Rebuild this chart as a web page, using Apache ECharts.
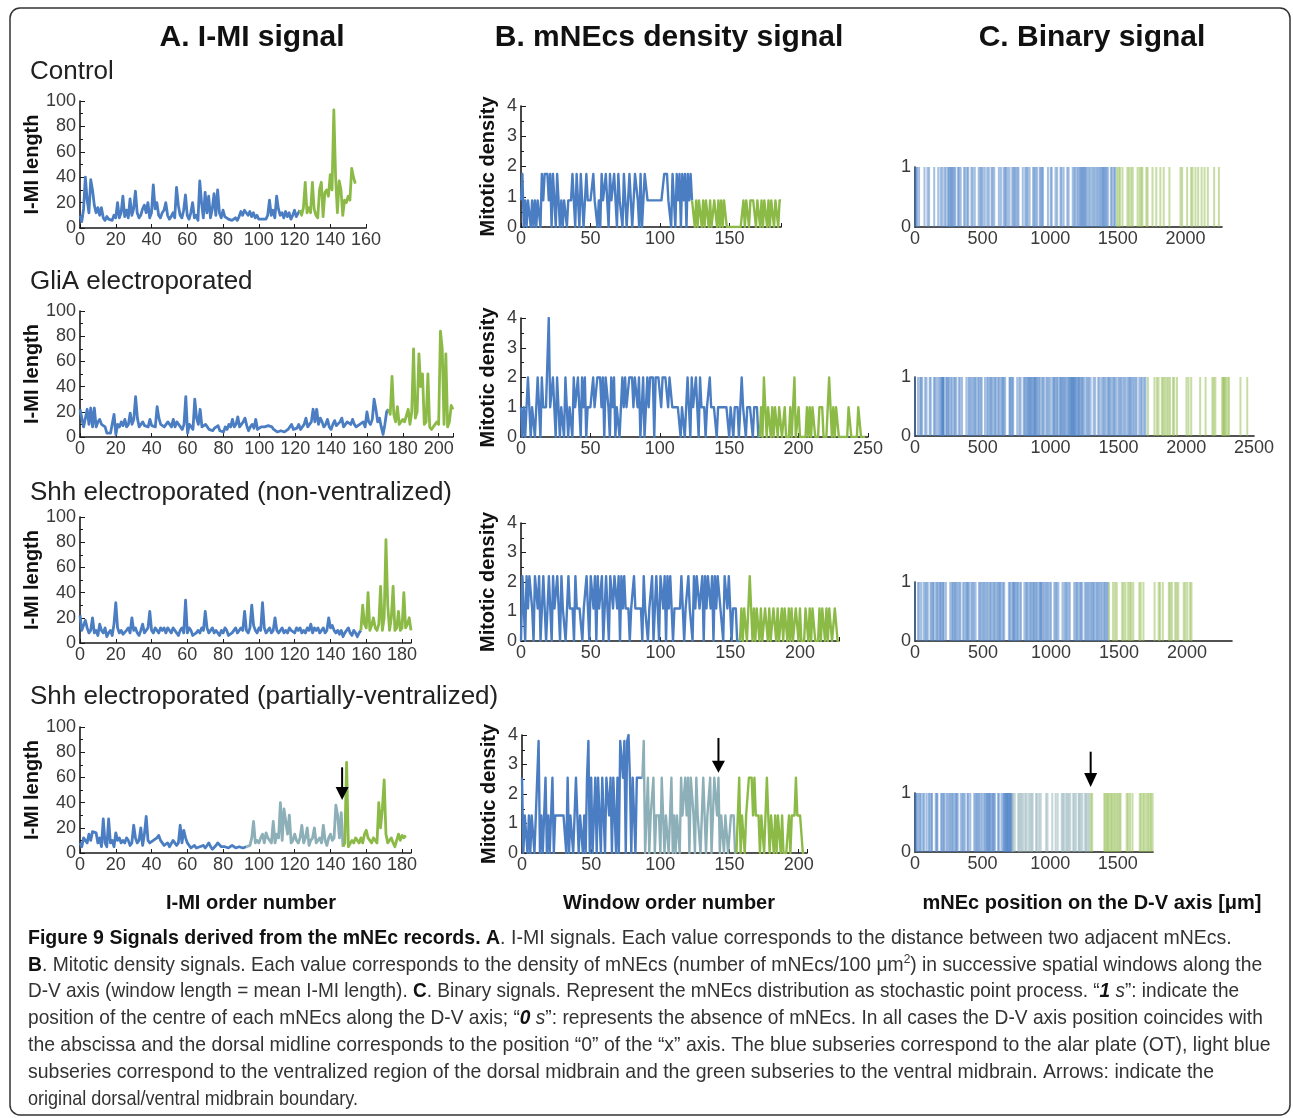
<!DOCTYPE html>
<html><head><meta charset="utf-8">
<script src="https://cdn.jsdelivr.net/npm/echarts@6/dist/echarts.min.js"></script>
<style>html,body{margin:0;padding:0;background:#fff}#c{width:1293px;height:1118px}</style>
</head><body><div id="c"></div>
<script>
// ===================== DATA =====================
// Column titles / row labels / axis titles
const colTitles = ['A. I-MI signal', 'B. mNEcs density signal', 'C. Binary signal'];
const rowLabels = ['Control', 'GliA electroporated', 'Shh electroporated (non-ventralized)', 'Shh electroporated (partially-ventralized)'];
const bottomTitles = ['I-MI order number', 'Window order number', 'mNEc position on the D-V axis [\u03bcm]'];

// ---- A. I-MI signals (value per I-MI order number); *Start = first order number of each subseries
const imiCtrlStart = [0, 123];
const imiCtrlBlue = [10,5,15,40,22,12,38,30,18,12, 16,10,16,8,6,9,7,8,6,10, 8,20,8,12,25,9,14,8,23,10,
  15,29,12,8,10,15,18,12,20,8, 12,34,15,20,10,8,12,14,20,10, 7,9,12,8,32,18,10,8,14,26,
  10,7,12,20,8,10,6,37,20,8, 28,12,25,8,15,27,10,30,12,8, 14,9,10,7,8,6,7,8,6,9,
  13,10,14,12,10,13,9,12,8,10, 7,6,7,8,7,10,22,10,14,8, 25,15,10,12,8,13,9,12,7,10, 14,9,8,14];
const imiCtrlGreen = [14,10,16,36,12,16,12,36,15,10, 8,30,36,9,28,30,25,42,30,93, 40,12,37,30,10,22,20,25,22,47, 40,35];

const imiGliaStart = [0, 172];
const imiGliaBlue = [22,15,8,8,22,10,23,8,23,8, 12,14,10,9,8,3,3,3,4,18, 2,10,8,12,9,14,8,10,19,10,
  14,32,15,8,10,12,9,10,8,14, 9,10,8,24,15,10,10,8,8,12, 10,8,14,8,12,10,8,6,10,32,
  3,10,8,6,30,15,10,22,8,7, 10,8,6,7,5,7,6,9,5,6, 4,8,6,10,8,14,8,10,16,8,
  10,12,15,9,5,8,10,7,14,6, 6,8,7,8,7,9,10,8,6,7, 4,5,5,5,4,5,6,5,10,6,
  5,7,10,6,8,10,15,8,10,12, 22,12,22,10,15,12,8,10,14,8, 6,10,13,9,8,12,15,8,10,12,
  12,10,14,10,8,9,10,10,12,8, 20,12,10,14,30,22,12,15,8,2, 10,20,22];
const imiGliaGreen = [22,18,48,18,12,24,10,12,14,12, 12,22,10,20,70,15,20,66,40,50,
  10,12,50,8,6,5,10,12,10,84, 70,10,66,8,12,25,22];

const imiShhNStart = [0, 157];
const imiShhNBlue = [22,10,14,18,12,8,10,20,8,10, 6,15,10,8,12,5,8,10,6,15, 32,12,8,10,7,8,10,12,8,20,
  10,12,8,6,10,15,8,10,12,25, 10,8,12,10,8,12,10,12,8,12, 10,8,12,10,8,6,10,12,8,34,
  8,12,10,6,5,8,10,8,12,10, 25,12,8,10,12,8,10,8,6,10, 8,12,10,6,5,8,10,12,8,10,
  12,10,25,10,8,12,30,14,10,8, 12,10,32,12,8,10,12,8,10,20, 10,8,10,12,8,10,8,12,10,10,
  8,12,10,12,8,10,8,12,10,15, 8,12,10,12,8,10,12,8,10,20, 12,14,10,8,10,7,10,5,8,10,
  12,8,6,10,8,5,8,10];
const imiShhNGreen = [10,30,15,12,40,10,14,20,12,10, 15,45,10,20,82,30,10,20,45,10, 12,25,10,12,40,12,15,20,10];

const imiShhPStart = [0, 93, 147];
const imiShhPBlue = [8,5,12,10,8,15,10,17,16,16, 8,12,5,27,8,5,27,8,10,5, 16,10,12,8,10,8,12,10,6,8,
  22,12,8,10,20,6,15,29,10,8, 8,10,10,12,14,10,8,6,6,8, 5,6,10,8,6,8,22,8,18,12,
  8,6,4,5,6,4,3,5,5,6, 4,6,8,5,3,4,6,8,9,5, 4,5,6,4,5,6,6,4,3,5, 5,4,4,5];
const imiShhPLight = [5,5,6,12,25,8,10,8,12,15, 8,16,12,10,8,25,8,15,12,40, 10,35,25,15,30,8,10,15,10,8,
  12,22,8,12,20,6,10,12,20,8, 10,12,8,22,10,6,12,15,10,12, 38,30,12,32,5];
const imiShhPGreen = [5,8,72,5,4,10,8,12,10,8, 12,8,15,18,12,10,8,12,10,8, 40,20,35,58,15,8,10,12,8,5, 10,15,10,14,12,14];

// ---- B. Mitotic density signals (value per window order number)
const denCtrlStart = [0, 123];
const denCtrlBlue = [0.88,1.75,0,0.88,0,0.88,0.88,0,0.88,0, 0.88,0,0.88,0.88,0,1.75,0.88,1.75,1.75,1.75,
  0.88,1.75,0,1.75,0.88,0,1.75,0.88,0,0.88, 0,0.88,0.88,0,0.88,0.88,0.88,1.75,0.88,0,
  1.75,0.88,0,1.75,0.88,0,0.88,1.75,0.88,0.88, 0.88,0.88,1.75,0.88,0.88,0,0.88,0,1.75,0.88,
  0.88,1.75,0.88,0,1.75,0.88,0.88,1.75,0.88,0, 1.75,0.88,0.88,0,1.75,0.88,0,0.88,1.75,0.88,
  0,0.88,1.75,1.75,0.88,0,1.75,0,0.88,1.75, 1.75,0.88,0.88,0.88,0.88,0.88,0.88,0.88,0.88,0.88,
  0.88,0.88,0.88,1.75,1.75,1.75,0.88,0.88,0,1.75, 0.88,0,1.75,0.88,1.75,0,1.75,0.88,1.75,0, 1.75,0.88,1.75,0.88];
const denCtrlGreen = [0.88,0.88,0,0.88,0,0.88,0.88,0,0.88,0, 0.88,0.88,0,0.88,0,0,0.88,0.88,0,0.88,
  0,0.88,0,0.88,0.88,0,0,0,0,0, 0,0,0,0,0,0,0,0.88,0,0.88, 0.88,0,0.88,0.88,0.88,0.88,0,0.88,0.88,0,
  0.88,0,0.88,0.88,0,0.88,0,0.88,0.88,0, 0.88,0.88,0,0.88,0.88];

const denGliaStart = [0, 172];
const denGliaBlue = [1,0,1,0,1,2,1,0,1,1, 0,1,2,1,0,2,1,1,1,1, 4,1,1,2,1,0,2,1,0,1, 1,0,2,1,0,1,1,0,2,1,
  1,2,1,0,2,1,2,0,1,1, 1,1,2,1,1,2,2,2,1,2, 0,2,2,1,0,2,1,2,0,1, 1,0,1,2,1,2,1,1,2,2,
  2,1,2,2,1,2,0,1,2,0, 1,2,1,2,2,2,0,2,2,2, 2,1,2,2,2,2,1,2,2,1, 1,1,1,1,1,0,1,1,0,1,
  2,1,0,2,1,1,2,1,0,2, 1,1,1,0,1,1,2,1,1,1, 1,0,1,1,1,1,1,1,1,1, 0,1,1,0,1,1,1,0,1,2,
  1,1,0,1,1,1,1,0,1,1, 1,0,0];
const denGliaGreen = [0,1,0,2,1,0,1,1,0,1, 0,1,1,0,1,1,0,0,1,0, 0,0,1,0,0,2,0,0,1,0, 0,0,0,0,1,0,1,0,1,1,
  0,0,0,1,1,1,0,0,0,1, 2,2,0,1,0,1,1,0,0,0, 0,0,0,0,1,1,0,0,0,0, 0,1,1,0,0,0,0];

const denShhNStart = [0, 157];
const denShhNBlue = [0,2.2,1.1,0,2.2,1.1,2.2,2.2,1.1,0, 2.2,2.2,1.1,2.2,0,1.1,2.2,1.1,0,1.1,
  2.2,1.1,0,2.2,1.1,1.1,2.2,2.2,0,2.2, 1.1,1.1,0,1.1,2.2,1.1,1.1,1.1,0,2.2,
  1.1,1.1,1.1,1.1,0,1.1,1.1,2.2,1.1,0, 2.2,2.2,1.1,2.2,0,2.2,1.1,1.1,2.2,0,
  1.1,2.2,1.1,0,2.2,2.2,1.1,2.2,2.2,1.1, 2.2,0,2.2,1.1,2.2,1.1,1.1,1.1,0,1.1,
  1.1,2.2,1.1,1.1,1.1,1.1,1.1,0,2.2,1.1, 1.1,0,1.1,1.1,2.2,0,1.1,2.2,1.1,0,
  2.2,2.2,1.1,2.2,0,2.2,1.1,2.2,1.1,0, 1.1,1.1,1.1,1.1,1.1,2.2,1.1,0,1.1,1.1,
  2.2,1.1,1.1,0,2.2,1.1,2.2,2.2,1.1,1.1, 2.2,0,2.2,1.1,2.2,2.2,1.1,2.2,0,2.2,
  1.1,2.2,2.2,1.1,1.1,0,2.2,2.2,1.1,2.2, 1.1,0,1.1,1.1,1.1,0,0,0];
const denShhNGreen = [0,1.1,0,1.1,1.1,0,1.1,2.2,2.2,0, 1.1,0,1.1,1.1,0,1.1,0,0,1.1,1.1,
  0,1.1,0,0,1.1,1.1,0,1.1,0,0, 1.1,0,1.1,1.1,0,1.1,0,1.1,0,0, 1.1,1.1,0,1.1,0,0,0,1.1,1.1,0,
  1.1,0,1.1,1.1,0,0,0,1.1,0,1.1, 1.1,0,1.1,0,1.1,1.1,0,0,1.1,1.1, 0,0];

const denShhPStart = [0, 87, 155];
const denShhPBlue = [2.55,0,1.27,1.27,0,1.27,0,1.27,1.27,0, 1.27,1.27,3.8,0,1.27,0,1.27,2.55,0,1.27,
  0,1.27,2.55,0,1.27,1.27,1.27,1.27,1.27,1.27, 1.27,1.27,0,2.55,0,1.27,1.27,0,1.27,2.55,
  1.27,0,1.27,1.27,0,1.27,0,2.55,3.8,0, 2.55,0,1.27,2.55,0,2.55,2.55,0,2.55,2.55,
  0,2.55,2.55,1.27,2.55,0,2.55,2.55,0,2.55, 0,3.8,3.8,2.55,3.8,0,3.8,4,2.55,0,
  2.55,2.55,0,2.55,2.55,2.55,2.55,2.55];
const denShhPLight = [2.55,3.8,0,1.27,2.55,0,1.27,1.27,2.55,0, 1.27,1.27,1.27,0,2.55,1.27,0,1.27,1.27,0,
  1.27,2.55,0,1.27,0,1.27,1.27,0,2.55,1.27, 1.27,2.55,1.27,2.55,0,2.55,2.55,1.27,0,2.55,
  1.27,1.27,0,1.27,2.55,2.55,0,1.27,1.27,2.55, 0,1.27,2.55,2.55,1.27,2.55,0,1.27,1.27,0,
  1.27,1.27,0,0,1.27,1.27,1.27,0,0];
const denShhPGreen = [0,1.27,2.55,0,1.27,1.27,0,1.27,1.27,2.55, 2.55,2.55,1.27,2.55,1.27,1.27,1.27,0,1.27,1.27,
  0,1.27,2.55,1.27,0,1.27,1.27,0,1.27,0, 1.27,1.27,0,1.27,0,0,0,0,1.27,0, 1.27,1.27,1.27,2.55,1.27,1.27,1.27,1.27,0,0];

// ---- C. Binary signals: positions (um) of mNEc centres along the D-V axis ("1 s")
const binCtrlBlue = [0,10,15,30,70,92,104,142,172,190,202,218,228,244,250,259,266,274,280,290,298,318,326,338,363,372,386,394,417,427,
  442,471,483,491,501,516,534,546,566,574,586,620,635,655,665,673,685,699,719,729,736,745,757,765,797,815,825,833,847,873,
  883,890,902,922,930,940,946,983,1003,1011,1039,1051,1076,1084,1099,1126,1136,1166,1178,1186,1200,1209,1219,1226,1234,1240,1247,1255,1261,1270,
  1283,1293,1307,1319,1329,1342,1351,1363,1371,1381,1388,1394,1401,1409,1416,1426,1448,1458,1472,1480];
const binCtrlGreen = [1494,1506,1516,1534,1570,1582,1598,1610,1646,1661,1673,1681,1711,1720,1756,1784,1814,1839,1881,1963,
  1975,2012,2042,2052,2074,2094,2119,2141,2165,2212,2247];
const binGliaBlue = [0,22,37,45,53,75,85,108,116,139,147,159,173,183,192,200,203,206,209,213,231,233,243,251,263,272,286,294,304,323,
  333,347,379,394,402,412,424,433,443,451,465,474,484,492,516,531,541,551,559,567,579,589,597,611,619,631,641,649,655,665,
  697,700,710,718,724,754,769,779,801,809,816,826,834,840,847,852,859,865,874,879,885,889,897,903,913,921,935,943,953,969,
  977,987,999,1014,1023,1028,1036,1046,1053,1067,1073,1079,1087,1094,1102,1109,1118,1128,1136,1142,1149,1153,1158,1163,1168,1172,1177,1183,1188,1198,
  1204,1209,1216,1226,1232,1240,1250,1265,1273,1283,1295,1317,1329,1351,1361,1376,1388,1396,1406,1420,1428,1434,1444,1457,1466,1474,1486,1501,1509,1519,
  1531,1543,1553,1567,1577,1585,1594,1604,1614,1626,1634,1654,1666,1676,1690,1700];
const binGliaGreen = [1718,1766,1784,1796,1820,1830,1842,1856,1868,1880,1902,1912,1932,2002,2017,2037,2103,2143,2193,2203,
  2215,2265,2273,2279,2284,2294,2306,2316,2400,2450];
const binShhNBlue = [0,22,32,46,64,76,84,94,114,122,132,138,153,163,171,183,188,196,206,212,227,259,271,279,289,296,304,314,326,334,
  354,364,376,384,390,400,415,423,433,445,470,480,488,500,510,518,530,540,552,560,572,582,590,602,612,620,626,636,648,656,
  690,698,710,720,726,731,739,749,757,769,779,804,816,824,834,846,854,864,872,878,888,896,908,918,924,929,937,947,959,967,
  977,989,999,1024,1034,1042,1054,1084,1098,1108,1116,1128,1138,1170,1182,1190,1200,1212,1220,1230,1250,1260,1268,1278,1290,1298,
  1308,1316,1328,1338,1348,1356,1368,1378,1390,1398,1408,1416];
const binShhNGreen = [1426,1456,1471,1483,1523,1533,1547,1567,1579,1589,1604,1649,1659,1679,1761,1791,1801,1821,1866,1876,
  1888,1913,1923,1935,1975,1987,2002,2022,2032];
const binShhPBlue = [0,8,13,25,35,43,58,68,85,101,109,121,126,153,161,166,193,201,211,216,232,242,254,262,272,280,292,302,308,316,
  338,350,358,368,388,394,409,438,448,456,464,474,484,496,510,520,528,534,540,548,553,559,569,577,583,591,613,621,639,651,
  659,665,669,674,680,684,687,692,697,703,707,711,715];
const binShhPLight = [720,726,738,763,771,781,789,801,816,824,840,852,862,870,895,903,918,930,970,980,1015,1040,1055,1085,1093,
  1103,1118,1128,1136,1148,1170,1178,1190,1210,1216,1226,1238,1258,1266,1276,1288];
const binShhPGreen = [1300,1310,1400,1408,1418,1426,1436,1448,1456,1468,1478,1490,1500,1512,1520,1565,1575,1590,1608,1662,
  1672,1687,1697,1711,1723,1735,1745,1757];

// Arrows (dorsal/ventral boundary) in data coordinates [x, yTop, yTip]
const arrowShhP_A = [146.5, 68, 42];
const arrowShhP_B = [142, 3.9, 2.72];
const arrowShhP_C = [1299, 1.7, 1.1];

// Caption
const captionLines = [
  '{b|Figure 9 Signals derived from the mNEc records. A}{r|. I-MI signals. Each value corresponds to the distance between two adjacent mNEcs.}',
  '{b|B}{r|. Mitotic density signals. Each value corresponds to the density of mNEcs (number of mNEcs/100 \u03bcm}{sup|2}{r|) in successive spatial windows along the}',
  '{r|D-V axis (window length = mean I-MI length). }{b|C}{r|. Binary signals. Represent the mNEcs distribution as stochastic point process. \u201c}{bi|1}{i| s}{r|\u201d: indicate the}',
  '{r|position of the centre of each mNEcs along the D-V axis; \u201c}{bi|0}{i| s}{r|\u201d: represents the absence of mNEcs. In all cases the D-V axis position coincides with}',
  '{r|the abscissa and the dorsal midline corresponds to the position \u201c0\u201d of the \u201cx\u201d axis. The blue subseries correspond to the alar plate (OT), light blue}',
  '{r|subseries correspond to the ventralized region of the dorsal midbrain and the green subseries to the ventral midbrain. Arrows: indicate the}',
  '{r|original dorsal/ventral midbrain boundary.}'
];

// ===================== STYLE / LAYOUT =====================
const BLUE = '#4a7dc2', GREEN = '#8cba47', LIGHT = '#8cafb8';
const BIN_BLUE = '#4a80c6', BIN_GREEN = '#8fbc4c', BIN_LIGHT = '#8eb0b8';
const FONT = 'Liberation Sans, Arial, Helvetica, sans-serif';
const captionScaleX = [0.93, 0.919, 0.905, 0.912, 0.924, 0.927, 0.86];

// panel layout: col, grid box, axis ranges
const panels = [
  // column A
  {col:0, left:80, top:101, width:286, height:127, xmax:160, xint:20, ymax:100, yint:20},
  {col:0, left:80, top:311, width:373, height:126, xmax:208, xint:20, ymax:100, yint:20},
  {col:0, left:80, top:517, width:331, height:126, xmax:185, xint:20, ymax:100, yint:20},
  {col:0, left:80, top:727, width:331, height:126, xmax:185, xint:20, ymax:100, yint:20},
  // column B
  {col:1, left:521, top:106, width:260, height:121, xmax:187, xint:50, ymax:4, yint:1},
  {col:1, left:521, top:318, width:347, height:119, xmax:250, xint:50, ymax:4, yint:1},
  {col:1, left:521, top:523, width:318, height:118, xmax:228, xint:50, ymax:4, yint:1},
  {col:1, left:522, top:735, width:285, height:118, xmax:206, xint:50, ymax:4, yint:1},
  // column C
  {col:2, left:915, top:167, width:307, height:60, xmax:2270, xint:500, ymax:1, yint:1},
  {col:2, left:915, top:377, width:339, height:59, xmax:2500, xint:500, ymax:1, yint:1},
  {col:2, left:915, top:582, width:317, height:59, xmax:2330, xint:500, ymax:1, yint:1},
  {col:2, left:915, top:793, width:238, height:59, xmax:1760, xint:500, ymax:1, yint:1}
];

const lineSets = [
  [[imiCtrlBlue, imiCtrlStart[0], BLUE], [imiCtrlGreen, imiCtrlStart[1], GREEN]],
  [[imiGliaBlue, imiGliaStart[0], BLUE], [imiGliaGreen, imiGliaStart[1], GREEN]],
  [[imiShhNBlue, imiShhNStart[0], BLUE], [imiShhNGreen, imiShhNStart[1], GREEN]],
  [[imiShhPBlue, imiShhPStart[0], BLUE], [imiShhPLight, imiShhPStart[1], LIGHT], [imiShhPGreen, imiShhPStart[2], GREEN]],
  [[denCtrlBlue, denCtrlStart[0], BLUE], [denCtrlGreen, denCtrlStart[1], GREEN]],
  [[denGliaBlue, denGliaStart[0], BLUE], [denGliaGreen, denGliaStart[1], GREEN]],
  [[denShhNBlue, denShhNStart[0], BLUE], [denShhNGreen, denShhNStart[1], GREEN]],
  [[denShhPBlue, denShhPStart[0], BLUE], [denShhPLight, denShhPStart[1], LIGHT], [denShhPGreen, denShhPStart[2], GREEN]]
];
const binSets = [
  [[binCtrlBlue, BIN_BLUE], [binCtrlGreen, BIN_GREEN]],
  [[binGliaBlue, BIN_BLUE], [binGliaGreen, BIN_GREEN]],
  [[binShhNBlue, BIN_BLUE], [binShhNGreen, BIN_GREEN]],
  [[binShhPBlue, BIN_BLUE], [binShhPLight, BIN_LIGHT], [binShhPGreen, BIN_GREEN]]
];

const grids = [], xAxes = [], yAxes = [], series = [];
panels.forEach((p, i) => {
  grids.push({left:p.left, top:p.top, width:p.width, height:p.height, containLabel:false});
  const fmt = (v) => (Math.abs(v % p.xint) < 1e-9 ? String(v) : '');
  const fmtY = (v) => (Math.abs(v % p.yint) < 1e-9 ? String(v) : '');
  xAxes.push({
    type:'value', gridIndex:i, min:0, max:p.xmax, interval:p.xint,
    axisLine:{show:true, onZero:false, lineStyle:{color:'#1a1a1a', width:1.6}},
    axisTick:{show:p.col !== 2, inside:true, length:4, lineStyle:{color:'#1a1a1a', width:1}},
    axisLabel:{fontSize:18, color:'#3a3a3a', margin:3, fontFamily:FONT, formatter:fmt, showMaxLabel:true},
    splitLine:{show:false}
  });
  const y = {
    type:'value', gridIndex:i, min:0, max:p.ymax, interval:p.yint,
    axisLine:{show:true, onZero:false, lineStyle:{color:'#1a1a1a', width:1.6}},
    axisTick:{show:p.col !== 2, inside:true, length:5, lineStyle:{color:'#1a1a1a', width:1}},
    minorTick:{show:p.col !== 2, splitNumber:2, length:3, lineStyle:{color:'#1a1a1a', width:1}},
    axisLabel:{fontSize:18, color:'#3a3a3a', margin:4, fontFamily:FONT, formatter:fmtY},
    splitLine:{show:false}
  };
  if (p.col === 0) {
    Object.assign(y, {name:'I-MI length', nameLocation:'middle', nameRotate:90, nameGap:27,
      nameTextStyle:{fontSize:20, fontWeight:'bold', color:'#111', fontFamily:FONT}});
  } else if (p.col === 1) {
    Object.assign(y, {name:'Mitotic density', nameLocation:'middle', nameRotate:90, nameGap:23,
      nameTextStyle:{fontSize:20, fontWeight:'bold', color:'#111', fontFamily:FONT}});
  }
  yAxes.push(y);

  if (p.col < 2) {
    const w = p.col === 0 ? 2.8 : 2.4;
    lineSets[i].forEach(([arr, start, color]) => {
      series.push({
        type:'line', xAxisIndex:i, yAxisIndex:i, showSymbol:false, symbol:'none',
        data: arr.map((v, k) => [start + k, v]),
        lineStyle:{color, width:w, join:'round'}, itemStyle:{color},
        animation:false, silent:true, z:3
      });
    });
  } else {
    const row = i - 8;
    binSets[row].forEach(([arr, color]) => {
      series.push({
        type:'custom', xAxisIndex:i, yAxisIndex:i,
        data: arr.map(v => [v, 1]),
        encode:{x:0, y:1},
        renderItem: (params, api) => {
          const b = api.coord([api.value(0), 0]);
          const t = api.coord([api.value(0), api.value(1)]);
          return {type:'line', shape:{x1:b[0], y1:b[1], x2:t[0], y2:t[1]},
            style:{stroke:color, lineWidth:2, opacity:0.5}};
        },
        animation:false, silent:true, z:2
      });
    });
  }
});

// ===================== TEXT GRAPHICS =====================
const graphics = [];
graphics.push({type:'rect', shape:{x:10, y:8, width:1280, height:1107, r:10},
  style:{fill:'none', stroke:'#333', lineWidth:1.5}, z:0});
const titleX = [252, 669, 1092];
colTitles.forEach((t, k) => graphics.push({type:'text', x:titleX[k], y:38,
  style:{text:t, font:'bold 30px ' + FONT, fill:'#111', align:'center', verticalAlign:'middle'}}));
const rowY = [72, 282, 493, 697];
rowLabels.forEach((t, k) => graphics.push({type:'text', x:30, y:rowY[k],
  style:{text:t, font:'26px ' + FONT, fill:'#222', align:'left', verticalAlign:'middle'}}));
const botX = [251, 669, 1092];
bottomTitles.forEach((t, k) => graphics.push({type:'text', x:botX[k], y:903,
  style:{text:t, font:'bold 20px ' + FONT, fill:'#111', align:'center', verticalAlign:'middle'}}));

const capRich = {
  b:{fontWeight:'bold', fontSize:21, fontFamily:FONT, fill:'#111', color:'#111'},
  r:{fontSize:21, fontFamily:FONT, fill:'#333', color:'#333'},
  i:{fontStyle:'italic', fontSize:21, fontFamily:FONT, fill:'#333', color:'#333'},
  bi:{fontStyle:'italic', fontWeight:'bold', fontSize:21, fontFamily:FONT, fill:'#111', color:'#111'},
  sup:{fontSize:13, fontFamily:FONT, fill:'#333', color:'#333', verticalAlign:'top', padding:[0,0,10,0]}
};
captionLines.forEach((t, k) => graphics.push({type:'text', x:28, y:938 + k * 26.8, scaleX:captionScaleX[k],
  style:{text:t, rich:capRich, fontSize:21, fontFamily:FONT, fill:'#333', align:'left', verticalAlign:'middle'}}));

const chart = echarts.init(document.getElementById('c'), null, {renderer:'canvas'});
chart.setOption({
  animation:false, backgroundColor:'#fff',
  grid:grids, xAxis:xAxes, yAxis:yAxes, series:series, graphic:graphics
});

// arrows placed via the axis scales
function arrow(gridIndex, a, head) {
  const p1 = chart.convertToPixel({gridIndex}, [a[0], a[1]]);
  const p2 = chart.convertToPixel({gridIndex}, [a[0], a[2]]);
  return [
    {type:'line', shape:{x1:p1[0], y1:p1[1], x2:p2[0], y2:p2[1] - head + 2}, style:{stroke:'#000', lineWidth:2}, z:10},
    {type:'polygon', shape:{points:[[p2[0] - 6.5, p2[1] - head], [p2[0] + 6.5, p2[1] - head], [p2[0], p2[1]]]}, style:{fill:'#000'}, z:10}
  ];
}
const arrows = [].concat(arrow(3, arrowShhP_A, 13), arrow(7, arrowShhP_B, 12), arrow(11, arrowShhP_C, 14));
chart.setOption({graphic: graphics.concat(arrows)});
</script>
</body></html>
